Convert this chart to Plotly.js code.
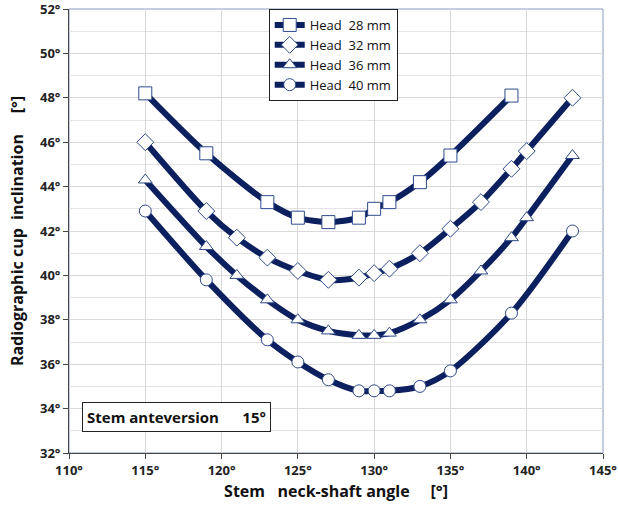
<!DOCTYPE html>
<html><head><meta charset="utf-8">
<script src="https://cdn.plot.ly/plotly-3.0.1.min.js"></script>
<style>body{margin:0;padding:0;background:#fff}#chart{width:618px;height:505px}</style>
</head><body><div id="chart"></div>
<script>
const x28 = [115,119,123,125,127,129,130,131,133,135,139];
const y28 = [48.2,45.5,43.3,42.6,42.4,42.6,43.0,43.3,44.2,45.4,48.1];
const x32 = [115,119,121,123,125,127,129,130,131,133,135,137,139,140,143];
const y32 = [46.0,42.9,41.7,40.8,40.2,39.8,39.9,40.1,40.3,41.0,42.1,43.3,44.8,45.6,48.0];
const x36 = [115,119,121,123,125,127,129,130,131,133,135,137,139,140,143];
const y36 = [44.3,41.3,40.0,38.9,38.0,37.5,37.3,37.3,37.4,38.0,38.9,40.2,41.7,42.6,45.4];
const x40 = [115,119,123,125,127,129,130,131,133,135,139,143];
const y40 = [42.9,39.8,37.1,36.1,35.3,34.8,34.8,34.8,35.0,35.7,38.3,42.0];
const names = ['Head\u00a0\u00a028 mm','Head\u00a0\u00a032 mm','Head\u00a0\u00a036 mm','Head\u00a0\u00a040 mm'];
const symbols = ['square','diamond','triangle-up','circle'];
const xs=[x28,x32,x36,x40], ys=[y28,y32,y36,y40];
const navy='#0c1f5e';
const sizes=[13,13,12,12];
const traces = xs.map((x,i)=>({
  x:x, y:ys[i], name:names[i], type:'scatter', mode:'lines+markers',
  line:{color:navy,width:6,shape:'spline',smoothing:0.8},
  marker:{symbol:symbols[i],size:sizes[i],color:'#ffffff',line:{color:'#2f4a8a',width:1}}
}));
const font='"Open Sans", "Liberation Sans", sans-serif';
const layout = {
  width:618,height:505,
  margin:{l:69,r:15,t:9,b:52},
  paper_bgcolor:'#fff',plot_bgcolor:'#fff',
  font:{family:font,color:'#222'},
  showlegend:true,
  legend:{x:0.374,y:1.0,xanchor:'left',yanchor:'top',bgcolor:'#fff',bordercolor:'#222',borderwidth:1,
    font:{family:font,size:13,color:'#111'},itemwidth:30,tracegroupgap:0,traceorder:'normal'},
  xaxis:{range:[110,145],dtick:5,tick0:110,ticksuffix:'°',showgrid:true,gridcolor:'#d9d9d9',
    ticks:'outside',ticklen:5,tickcolor:'#444',showline:true,linecolor:'#444',mirror:false,zeroline:false,
    ticklabeloverflow:'allow',
    tickfont:{family:font,size:13,weight:'bold',color:'#222'},
    title:{text:'Stem\u00a0\u00a0 neck-shaft angle\u00a0\u00a0\u00a0\u00a0 [°]',font:{family:font,size:16,weight:'bold',color:'#111'},standoff:8}},
  yaxis:{range:[32,52],dtick:2,tick0:32,ticksuffix:'°',showgrid:true,gridcolor:'#d9d9d9',
    minor:{dtick:1,showgrid:true,gridcolor:'#e3e3e3'},
    ticks:'outside',ticklen:5,tickcolor:'#444',showline:true,linecolor:'#444',zeroline:false,
    ticklabeloverflow:'allow',
    tickfont:{family:font,size:13,weight:'bold',color:'#222'},
    title:{text:'Radiographic cup\u00a0 inclination\u00a0\u00a0\u00a0\u00a0 [°]',font:{family:font,size:16,weight:'bold',color:'#111'},standoff:12}},
  shapes:[{type:'rect',xref:'paper',yref:'paper',x0:0,x1:1,y0:0,y1:1,line:{color:'#8a9bbf',width:1},layer:'below'}],
  annotations:[{xref:'paper',yref:'paper',x:0.025,y:0.081,xanchor:'left',yanchor:'middle',
    text:'Stem anteversion\u00a0\u00a0\u00a0\u00a0\u00a0 15°',showarrow:false,
    font:{family:font,size:15,weight:'bold',color:'#111'},bgcolor:'#fff',bordercolor:'#222',borderwidth:1,borderpad:4}]
};
Plotly.newPlot('chart',traces,layout,{displayModeBar:false,staticPlot:true});
</script></body></html>
